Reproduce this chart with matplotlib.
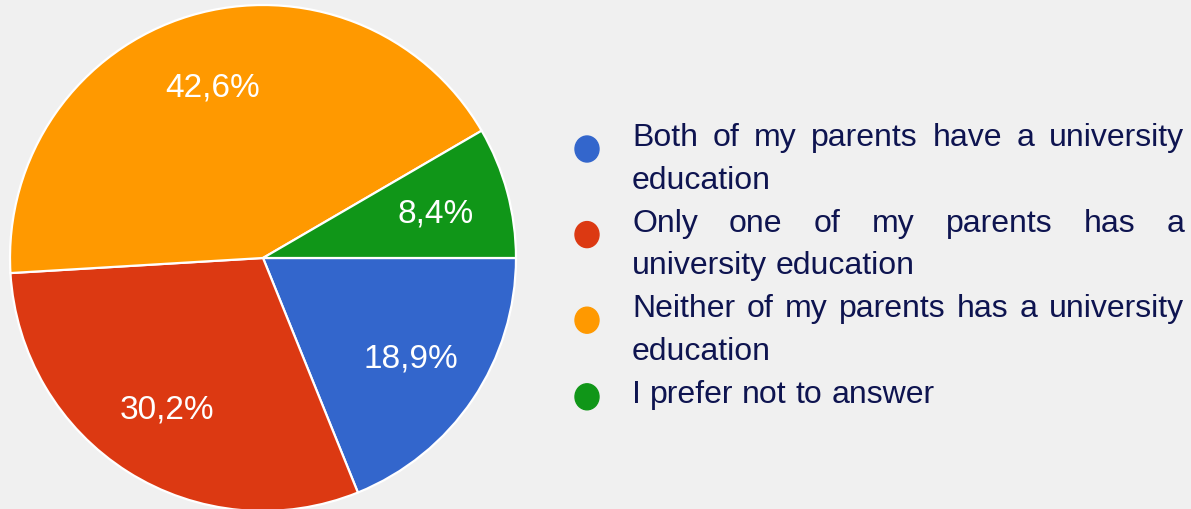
import matplotlib
matplotlib.use("Agg")
import matplotlib.pyplot as plt
from matplotlib.patches import Ellipse

# ---- data ----
categories = [
    "Both of my parents have a university education",
    "Only one of my parents has a university education",
    "Neither of my parents has a university education",
    "I prefer not to answer",
]
values = [18.9, 30.2, 42.6, 8.4]
pct_labels = ["18,9%", "30,2%", "42,6%", "8,4%"]
colors = ["#3366cc", "#dc3912", "#ff9900", "#109618"]

W, H = 1191, 510
BG = "#f0f0f0"
TXT = "#0e1450"
plt.rcParams['font.family'] = ['Liberation Sans', 'DejaVu Sans']

fig = plt.figure(figsize=(W / 100, H / 100), dpi=100, facecolor=BG)

# pie axes: center (263, 259 from top), radius 253 px
cx, cy, R = 263, 259, 253
ax = fig.add_axes([(cx - R) / W, (H - cy - R) / H, 2 * R / W, 2 * R / H])
ax.set_facecolor(BG)
wedges, _ = ax.pie(values, colors=colors, startangle=0, counterclock=False,
                   radius=1, wedgeprops=dict(edgecolor="white", linewidth=1.6))
ax.set_xlim(-1, 1)
ax.set_ylim(-1, 1)
ax.set_aspect("auto")
ax.axis("off")

import numpy as np
ang = 0.0
for v, lab in zip(values, pct_labels):
    mid = ang - v / 100 * 360 / 2
    ang -= v / 100 * 360
    r = 0.705
    ax.text(r * np.cos(np.radians(mid)), r * np.sin(np.radians(mid)), lab,
            color="white", fontsize=24, ha="center", va="center")

# ---- justified legend ----
fs = 23.0
x0, x1 = 632, 1184
base0 = 146
step = 42.8
renderer = fig.canvas.get_renderer()


def wwidth(s):
    t = fig.text(0, 0, s, fontsize=fs)
    w = t.get_window_extent(renderer).width
    t.remove()
    return w


space_w = wwidth("a a") - 2 * wwidth("a")
maxw = x1 - x0

line = 0
for cat, col in zip(categories, colors):
    words = cat.split()
    lines, cur = [], []
    for w in words:
        trial = cur + [w]
        tw = sum(wwidth(x) for x in trial) + space_w * (len(trial) - 1)
        if cur and tw > maxw:
            lines.append(cur)
            cur = [w]
        else:
            cur = trial
    lines.append(cur)

    first_base = base0 + line * step
    my = first_base + (4 if len(lines) > 1 else -5)
    fig.patches.append(Ellipse((587 / W, 1 - my / H), 24 / W, 26 / H,
                               transform=fig.transFigure, color=col, zorder=3))
    for i, ln in enumerate(lines):
        yb = 1 - (base0 + line * step) / H
        widths = [wwidth(x) for x in ln]
        last = (i == len(lines) - 1)
        if last or len(ln) == 1:
            gap = space_w
        else:
            gap = (maxw - sum(widths)) / (len(ln) - 1)
        x = x0
        for wd, wv in zip(ln, widths):
            fig.text(x / W, yb, wd, fontsize=fs, color=TXT, ha="left", va="baseline")
            x += wv + gap
        line += 1

fig.savefig("out.png", dpi=100, facecolor=BG)
